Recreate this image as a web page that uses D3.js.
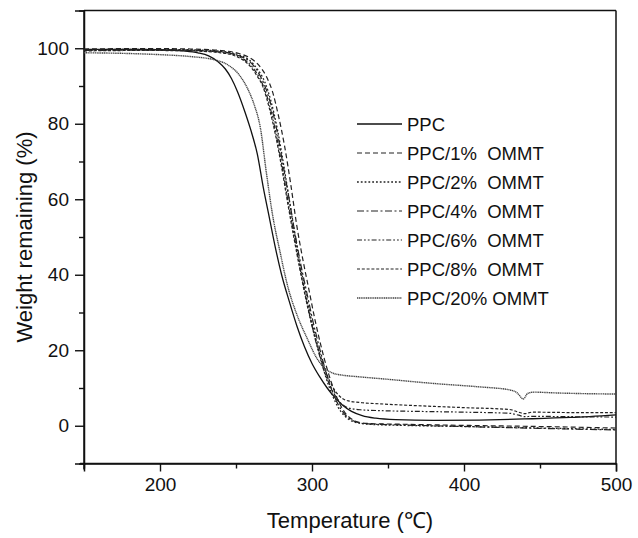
<!DOCTYPE html>
<html><head><meta charset="utf-8">
<script src="https://cdn.jsdelivr.net/npm/d3@7"></script>
<style>
body{margin:0;background:#fff;}
text{font-family:"Liberation Sans",Arial,sans-serif;fill:#111;}
</style></head>
<body><svg id="c" width="638" height="538"></svg>
<script>
// ---- data (temperature °C, weight remaining %) ----
const seriesNames = ["PPC","PPC/1%  OMMT","PPC/2%  OMMT","PPC/4%  OMMT","PPC/6%  OMMT","PPC/8%  OMMT","PPC/20% OMMT"];

const tPPC = [150,180,200,215,225,232,238,243,247,251,256,260,264,268,272,276,280,285,290,295,300,305,310,315,320,326,333,342,355,380,410,440,470,500];
const wPPC = [99.7,99.7,99.6,99.3,98.8,98,96.5,94.5,92,88.5,83,78,72,63,55,47,40,33,26.5,21,16.5,13,10,7.5,5.5,3.8,2.7,2,1.6,1.4,1.5,1.8,2.2,2.9];

const t1 = [150,180,200,220,240,252,259,265,270,274,278,282,286,290,294,298,302,306,310,314,318,322,326,331,337,360,400,450,500];
const w1 = [99.8,99.9,99.9,99.8,99.4,98.6,97.5,95.5,92.5,88.5,82,74,64,53,44,36,28,21,15,10,6,3.3,1.8,0.9,0.6,0.4,0.1,-0.2,-0.6];

const t2 = [150,180,200,220,240,252,259,264,269,273,277,281,285,289,293,297,301,305,309,313,317,321,325,331,337,360,400,450,500];
const w2 = [99.6,99.7,99.7,99.6,99.2,98.2,96.8,94.5,91,86,79,70,60,50,41,33,25.5,19,13,8.5,5,2.8,1.5,0.7,0.4,0.1,-0.2,-0.6,-1];

const t4 = [150,180,200,220,240,252,259,264,269,273,277,281,285,289,293,297,301,305,309,313,317,321,325,331,337,360,400,450,500];
const w4 = [99.5,99.6,99.6,99.5,99.1,98,96.5,94,90,85,78,69,60,50.5,42,34.5,27,20.5,14.5,9.5,5.8,3.3,1.8,0.8,0.5,0.2,-0.2,-0.7,-1.1];

const t6 = [150,180,200,220,240,252,258,263,268,272,276,280,284,288,292,296,300,304,308,312,316,320,325,333,345,370,400,430,436,440,445,470,500];
const w6 = [99.4,99.5,99.5,99.4,99,97.8,96.2,93.8,90,85,78,69.5,60,51,42,34,26.5,20,14.5,10.5,7.5,5.6,4.6,4.2,4,3.8,3.6,3.3,2.8,2.4,2.5,2.4,2.3];

const t8 = [150,180,200,220,240,252,258,263,268,272,276,280,284,288,292,296,300,304,308,312,316,320,325,333,345,370,400,430,436,440,445,470,500];
const w8 = [99.3,99.4,99.4,99.3,98.8,97.5,95.8,93.2,89.5,84,77,68.5,59,50,41.5,33.5,26.5,20.5,15.5,11.5,8.8,7.2,6.5,6.1,5.8,5.3,4.8,4.3,3.6,3.2,3.6,3.5,3.5];

const t20 = [150,180,200,220,235,245,252,258,262,266,270,274,279,284,290,297,303,309,314,320,330,350,380,410,430,435,439,442,446,460,480,500];
const w20 = [98.8,98.6,98.3,97.8,97,95.5,93,89,85,79,67,56,46,37,29.5,23,18,15,13.9,13.4,13,12.3,11.2,10.3,9.5,8.7,7.1,8.6,8.9,8.7,8.5,8.4];

const seriesT = [tPPC,t1,t2,t4,t6,t8,t20];
const seriesW = [wPPC,w1,w2,w4,w6,w8,w20];

const xTicks = [200,300,400,500];
const xMinor = [150,250,350,450];
const yTicks = [0,20,40,60,80,100];
const yMinor = [-10,10,30,50,70,90,110];

// ---- styles ----
const dashes = [null,"5,3","1.8,2","7,2.5,2,2.5","5,2,1.8,2,1.8,2","3,1.8","1.2,0.6"];
const strokes = ["#111","#222","#222","#222","#222","#222","#444"];
const widths = [1.3,1.2,1.3,1.2,1.2,1.2,1.4];

const svg = d3.select("#c");
const L=84, R=616, T=10.5, B=463.5;
const x = d3.scaleLinear().domain([150,500]).range([L,R]);
const y = d3.scaleLinear().domain([-10,110]).range([B,T]);

// frame
const ax = svg.append("g").attr("stroke","#111").attr("stroke-width",1.5).attr("fill","none");
ax.append("line").attr("x1",L).attr("x2",R).attr("y1",T).attr("y2",T);
ax.append("line").attr("x1",R).attr("x2",R).attr("y1",T).attr("y2",B+1);

// bottom axis
const xa = svg.append("g").attr("transform",`translate(0,${B})`)
  .call(d3.axisBottom(x).tickValues(xTicks).tickSize(8).tickPadding(6).tickFormat(d3.format("d")));
const xm = svg.append("g").attr("transform",`translate(0,${B})`)
  .call(d3.axisBottom(x).tickValues(xMinor).tickSize(5).tickFormat(""));
// left axis
const ya = svg.append("g").attr("transform",`translate(${L},0)`)
  .call(d3.axisLeft(y).tickValues(yTicks).tickSize(9).tickPadding(6).tickFormat(d3.format("d")));
const ym = svg.append("g").attr("transform",`translate(${L},0)`)
  .call(d3.axisLeft(y).tickValues(yMinor).tickSize(5).tickFormat(""));
[xa,xm,ya,ym].forEach(g=>{
  g.select(".domain").attr("stroke","#111").attr("stroke-width",1.5);
  g.selectAll(".tick line").attr("stroke","#111").attr("stroke-width",1.4);
  g.selectAll(".tick text").attr("font-size",19).attr("fill","#111").attr("font-family","Liberation Sans, Arial, sans-serif");
});
xm.select(".domain").attr("d",`M${L-4},0H${R}`);
ym.select(".domain").attr("d",`M0,${T}V${B+6}`);

// curves
const line = d3.line().x(d=>x(d[0])).y(d=>y(d[1])).curve(d3.curveMonotoneX);
const plot = svg.append("g").attr("fill","none");
seriesT.forEach((ts,i)=>{
  const pts = ts.map((t,j)=>[t,seriesW[i][j]]);
  plot.append("path").attr("d",line(pts)).attr("stroke",strokes[i])
    .attr("stroke-width",widths[i]).attr("stroke-dasharray",dashes[i]);
});

// legend
const lg = svg.append("g");
seriesNames.forEach((n,i)=>{
  const yy = 124 + i*29;
  lg.append("line").attr("x1",357).attr("x2",402).attr("y1",yy).attr("y2",yy)
    .attr("stroke",strokes[i]).attr("stroke-width",widths[i]).attr("stroke-dasharray",dashes[i]);
  lg.append("text").attr("x",407).attr("y",yy).attr("dy","0.36em").attr("font-size",18.5)
    .attr("xml:space","preserve").style("white-space","pre").text(n);
});

// axis titles
svg.append("text").attr("x",350).attr("y",528).attr("text-anchor","middle").attr("font-size",22).text("Temperature (℃)");
svg.append("text").attr("transform","translate(32,237) rotate(-90)").attr("text-anchor","middle").attr("font-size",22).text("Weight remaining (%)");
</script>
</body></html>
